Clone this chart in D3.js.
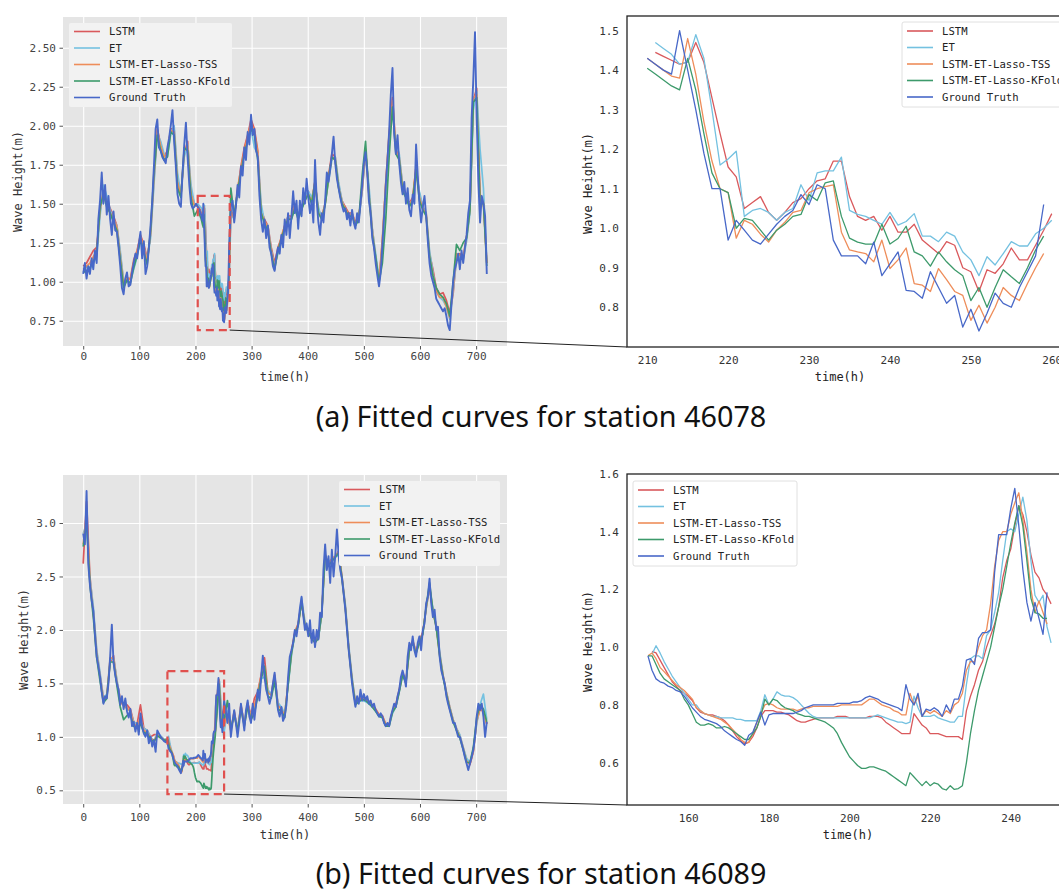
<!DOCTYPE html>
<html><head><meta charset="utf-8">
<script src="https://cdn.jsdelivr.net/npm/d3@7"></script>
<style>body{margin:0;background:#fff}svg{display:block}</style>
</head><body><svg id="c" width="1059" height="891"></svg>
<script>
// ---------- shared ----------
const seriesNames = ["LSTM", "ET", "LSTM-ET-Lasso-TSS", "LSTM-ET-Lasso-KFold", "Ground Truth"];
const seriesColors = ["#d9595c", "#74c1e0", "#ee8d5a", "#3d9a6b", "#4868c8"];
const overviewXTicks = [0, 100, 200, 300, 400, 500, 600, 700];
const titles = ["(a) Fitted curves for station 46078", "(b) Fitted curves for station 46089"];

// ---------- station 46078 (a) ----------
const aOverYTicks = [0.75, 1.00, 1.25, 1.50, 1.75, 2.00, 2.25, 2.50];
const aZoomXTicks = [210, 220, 230, 240, 250, 260];
const aZoomYTicks = [0.8, 0.9, 1.0, 1.1, 1.2, 1.3, 1.4, 1.5];
const aZoomWindow = [204, 261, 0.69, 1.55];
// zoom detail, hourly (LSTM & ET from 211, others from 210)
const aZoomStart = [211, 211, 210, 210, 210];
const aZoomLSTM = [1.445,1.435,1.425,1.415,1.42,1.47,1.42,1.33,1.24,1.155,1.13,1.05,1.065,1.08,1.04,1.02,1.04,1.065,1.075,1.10,1.12,1.125,1.17,1.17,1.08,1.03,1.02,1.03,0.995,1.03,0.99,0.99,1.01,0.97,0.953,0.936,0.966,0.957,0.90,0.89,0.84,0.895,0.886,0.91,0.95,0.92,0.92,0.957,0.995,1.037];
const aZoomET = [1.47,1.455,1.44,1.415,1.42,1.49,1.43,1.30,1.16,1.175,1.195,1.03,1.045,1.05,1.04,1.02,1.04,1.05,1.11,1.07,1.14,1.145,1.145,1.18,1.045,1.035,1.03,1.02,1.01,1.04,1.008,1.017,1.037,0.98,0.98,0.966,0.99,0.98,0.94,0.92,0.88,0.928,0.907,0.936,0.966,0.955,0.955,0.986,1.00,1.02];
const aZoomTSS = [1.43,1.415,1.40,1.385,1.38,1.48,1.39,1.27,1.17,1.10,1.09,0.975,1.02,1.01,0.985,0.965,0.995,1.015,1.04,1.045,1.09,1.10,1.105,1.11,0.99,0.945,0.94,0.936,0.915,0.97,0.898,0.92,0.95,0.86,0.856,0.84,0.898,0.87,0.84,0.83,0.767,0.805,0.76,0.80,0.85,0.83,0.817,0.86,0.90,0.936];
const aZoomKFold = [1.405,1.39,1.375,1.36,1.35,1.43,1.35,1.24,1.14,1.10,1.09,1.00,1.025,1.02,0.995,0.97,0.995,1.01,1.03,1.035,1.085,1.07,1.115,1.12,1.03,0.975,0.965,0.96,0.96,1.01,0.96,0.974,1.005,0.94,0.93,0.904,0.94,0.915,0.895,0.88,0.817,0.85,0.80,0.85,0.895,0.877,0.86,0.90,0.945,0.98];
const aZoomGT = [1.43,1.415,1.40,1.39,1.50,1.40,1.30,1.19,1.10,1.10,0.97,1.02,0.995,0.97,0.96,0.985,1.01,1.03,1.045,1.085,1.06,1.11,1.10,0.97,0.93,0.93,0.93,0.91,0.965,0.88,0.91,0.94,0.843,0.84,0.823,0.89,0.85,0.81,0.83,0.75,0.795,0.74,0.785,0.836,0.81,0.80,0.85,0.89,0.93,1.06];
// overview outside the window: GT every 3 h, models every 6 h
const aGTBefore = [1.05,1.12,1.02,1.10,1.05,1.15,1.08,1.20,1.12,1.40,
 1.52,1.70,1.50,1.62,1.43,1.55,1.40,1.30,1.45,1.33,
 1.32,1.22,1.10,0.96,0.92,1.02,1.06,0.97,0.98,1.06,
 1.12,1.18,1.15,1.24,1.32,1.15,1.26,1.05,1.10,1.22,
 1.36,1.52,1.74,1.98,2.04,1.86,1.84,1.80,1.78,1.76,
 1.86,1.92,2.00,2.10,1.90,1.74,1.56,1.50,1.48,1.70,
 1.88,2.02,1.80,1.62,1.50,1.47,1.48,1.50,1.48,1.46];
const aGTAfter = [1.22,1.48,1.52,1.38,1.48,1.62,1.54,1.74,1.68,1.86,
 1.78,1.96,1.88,2.07,1.94,1.98,1.84,1.80,1.55,1.40,
 1.32,1.40,1.28,1.36,1.22,1.18,1.10,1.07,1.16,1.22,
 1.18,1.30,1.22,1.40,1.30,1.44,1.28,1.42,1.58,1.44,
 1.52,1.34,1.52,1.42,1.60,1.50,1.66,1.54,1.44,1.52,
 1.38,1.78,1.52,1.38,1.30,1.44,1.38,1.52,1.70,1.64,
 1.72,1.82,1.93,1.76,1.66,1.60,1.54,1.49,1.45,1.47,
 1.40,1.44,1.36,1.46,1.38,1.34,1.44,1.38,1.50,1.62,
 1.76,1.83,1.70,1.52,1.44,1.28,1.22,1.12,1.04,0.97,
 1.06,1.24,1.42,1.62,1.78,1.96,2.20,2.37,1.95,1.82,
 1.94,1.76,1.64,1.56,1.64,1.50,1.60,1.46,1.42,1.56,
 1.50,1.88,1.68,1.50,1.38,1.48,1.55,1.42,1.26,1.12,
 1.04,1.00,0.96,0.89,0.87,0.85,0.83,0.81,0.83,0.78,
 0.72,0.69,0.85,1.00,1.08,1.12,1.18,1.08,1.20,1.12,
 1.22,1.30,1.44,1.52,2.05,2.30,2.60,2.05,1.64,1.38,
 1.55,1.50,1.42,1.05];
const aLSTMBefore = [1.10,1.12,1.16,1.20,1.22,1.45,1.60,1.52,1.47,1.42,1.36,1.18,1.00,1.02,1.02,1.14,1.20,1.30,1.24,1.15,1.30,1.65,1.98,1.88,1.80,1.84,1.98,1.98,1.66,1.55,1.82,1.90,1.58,1.50,1.49];
const aETBefore = [1.06,1.10,1.08,1.12,1.16,1.42,1.62,1.55,1.46,1.40,1.36,1.20,1.00,1.00,1.00,1.08,1.16,1.26,1.22,1.14,1.28,1.62,1.95,1.90,1.82,1.80,1.95,2.00,1.70,1.56,1.80,1.88,1.62,1.50,1.50];
const aTSSBefore = [1.08,1.10,1.12,1.16,1.20,1.46,1.58,1.50,1.44,1.41,1.35,1.16,0.98,1.03,1.01,1.12,1.19,1.29,1.22,1.13,1.31,1.67,1.97,1.87,1.80,1.83,1.97,1.96,1.64,1.55,1.84,1.87,1.56,1.49,1.48];
const aKFoldBefore = [1.06,1.07,1.09,1.13,1.18,1.48,1.56,1.48,1.44,1.38,1.33,1.14,0.96,1.01,0.99,1.09,1.17,1.27,1.19,1.11,1.33,1.70,1.94,1.84,1.78,1.80,1.96,1.94,1.60,1.54,1.86,1.84,1.54,1.42,1.46];
const aLSTMAfter = [1.45,1.42,1.58,1.74,1.86,1.94,2.04,1.98,1.84,1.46,1.40,1.36,1.22,1.12,1.22,1.28,1.36,1.42,1.42,1.50,1.42,1.48,1.52,1.58,1.52,1.64,1.46,1.42,1.50,1.68,1.82,1.80,1.62,1.52,1.48,1.44,1.44,1.38,1.42,1.58,1.84,1.58,1.34,1.16,1.00,1.26,1.62,1.94,2.18,1.86,1.80,1.62,1.56,1.50,1.54,1.74,1.56,1.48,1.44,1.18,1.08,0.96,0.92,0.93,0.88,0.80,0.92,1.16,1.18,1.15,1.28,1.46,2.16,2.24,1.56,1.52,1.12];
const aETAfter = [1.40,1.44,1.56,1.70,1.82,1.90,1.98,1.86,1.82,1.50,1.38,1.36,1.20,1.10,1.18,1.26,1.34,1.42,1.40,1.48,1.44,1.46,1.54,1.58,1.54,1.62,1.48,1.40,1.50,1.64,1.78,1.80,1.64,1.52,1.46,1.42,1.44,1.36,1.40,1.58,1.82,1.62,1.34,1.18,1.02,1.22,1.58,1.92,2.10,1.88,1.82,1.62,1.54,1.50,1.52,1.70,1.58,1.48,1.44,1.20,1.06,0.94,0.90,0.88,0.84,0.76,0.94,1.14,1.16,1.14,1.26,1.44,2.10,2.22,1.85,1.60,1.14];
const aTSSAfter = [1.46,1.40,1.60,1.72,1.84,1.93,2.02,1.96,1.82,1.44,1.39,1.35,1.19,1.09,1.20,1.29,1.36,1.40,1.41,1.49,1.41,1.47,1.53,1.56,1.51,1.65,1.44,1.41,1.50,1.66,1.80,1.78,1.61,1.51,1.47,1.43,1.43,1.38,1.41,1.60,1.85,1.56,1.32,1.15,1.00,1.28,1.64,1.95,2.16,1.84,1.79,1.60,1.55,1.49,1.53,1.74,1.54,1.47,1.43,1.16,1.04,0.94,0.90,0.90,0.84,0.77,0.96,1.18,1.17,1.16,1.29,1.47,2.18,2.20,1.52,1.51,1.12];
const aKFoldAfter = [1.60,1.42,1.58,1.70,1.82,1.90,1.98,1.94,1.78,1.44,1.37,1.33,1.18,1.08,1.20,1.27,1.35,1.40,1.40,1.47,1.40,1.46,1.52,1.56,1.50,1.64,1.44,1.40,1.49,1.66,1.80,1.78,1.60,1.50,1.46,1.42,1.42,1.36,1.40,1.68,1.90,1.56,1.30,1.16,1.00,1.12,1.40,1.80,2.12,1.82,1.78,1.58,1.54,1.48,1.52,1.72,1.52,1.46,1.42,1.16,1.04,0.96,0.92,0.90,0.86,0.78,1.00,1.24,1.20,1.25,1.28,1.46,2.15,2.18,1.50,1.50,1.10];

// ---------- station 46089 (b) ----------
const bOverYTicks = [0.5, 1.0, 1.5, 2.0, 2.5, 3.0];
const bZoomXTicks = [160, 180, 200, 220, 240];
const bZoomYTicks = [0.6, 0.8, 1.0, 1.2, 1.4, 1.6];
const bZoomWindow = [150, 251, 0.465, 1.615];
const bZoomStart = [151, 151, 150, 150, 150];
const bZoomLSTM = [0.985,0.98,0.955,0.93,0.905,0.88,0.865,0.85,0.84,0.83,
 0.815,0.79,0.775,0.77,0.765,0.765,0.76,0.755,0.745,0.73,
 0.71,0.69,0.675,0.665,0.67,0.69,0.72,0.76,0.78,0.78,
 0.78,0.775,0.775,0.77,0.765,0.755,0.745,0.74,0.74,0.745,
 0.75,0.755,0.755,0.755,0.755,0.755,0.76,0.76,0.76,0.755,
 0.755,0.755,0.755,0.755,0.76,0.76,0.76,0.755,0.74,0.73,
 0.72,0.71,0.70,0.70,0.70,0.77,0.75,0.73,0.72,0.70,
 0.70,0.70,0.695,0.69,0.69,0.69,0.69,0.68,0.78,0.83,
 0.87,0.92,0.95,1.00,1.04,1.08,1.14,1.24,1.30,1.34,
 1.42,1.49,1.46,1.40,1.32,1.26,1.24,1.20,1.18,1.15];
const bZoomET = [0.975,1.005,0.98,0.95,0.925,0.90,0.88,0.86,0.84,0.82,
 0.80,0.80,0.78,0.77,0.765,0.76,0.76,0.755,0.755,0.755,
 0.755,0.75,0.75,0.745,0.745,0.745,0.745,0.78,0.835,0.80,
 0.82,0.845,0.835,0.83,0.83,0.825,0.815,0.80,0.785,0.77,
 0.76,0.755,0.755,0.755,0.755,0.755,0.755,0.755,0.755,0.755,
 0.755,0.755,0.755,0.755,0.755,0.76,0.765,0.76,0.755,0.75,
 0.745,0.74,0.74,0.735,0.74,0.83,0.79,0.76,0.76,0.76,
 0.765,0.755,0.75,0.745,0.74,0.74,0.76,0.76,0.87,0.96,
 0.97,0.97,0.96,1.04,1.06,1.12,1.19,1.30,1.40,1.41,
 1.40,1.46,1.52,1.44,1.30,1.18,1.155,1.18,1.07,1.015];
const bZoomTSS = [0.97,0.98,0.96,0.93,0.915,0.90,0.885,0.87,0.86,0.85,
 0.835,0.82,0.79,0.78,0.77,0.765,0.76,0.755,0.75,0.74,
 0.73,0.715,0.70,0.68,0.67,0.67,0.70,0.74,0.77,0.80,
 0.805,0.80,0.79,0.785,0.785,0.785,0.785,0.78,0.785,0.79,
 0.79,0.795,0.795,0.795,0.795,0.795,0.795,0.795,0.80,0.80,
 0.80,0.80,0.80,0.80,0.81,0.82,0.82,0.81,0.80,0.795,
 0.79,0.78,0.775,0.765,0.765,0.84,0.80,0.83,0.76,0.78,
 0.77,0.78,0.77,0.76,0.78,0.77,0.80,0.81,0.84,0.92,
 0.95,0.95,1.00,1.04,1.06,1.15,1.28,1.37,1.40,1.40,
 1.46,1.50,1.535,1.44,1.33,1.20,1.12,1.16,1.12,1.08];
const bZoomKFold = [0.97,0.97,0.94,0.91,0.89,0.88,0.87,0.86,0.85,0.82,
 0.80,0.77,0.74,0.73,0.73,0.735,0.73,0.72,0.72,0.725,
 0.72,0.71,0.70,0.69,0.68,0.68,0.70,0.72,0.76,0.82,
 0.80,0.82,0.815,0.80,0.79,0.785,0.78,0.77,0.765,0.76,
 0.76,0.755,0.75,0.745,0.74,0.73,0.72,0.70,0.67,0.645,
 0.62,0.605,0.59,0.58,0.58,0.585,0.585,0.58,0.575,0.57,
 0.56,0.55,0.54,0.53,0.52,0.565,0.55,0.535,0.52,0.535,
 0.52,0.53,0.525,0.51,0.505,0.52,0.507,0.51,0.52,0.60,
 0.70,0.78,0.85,0.90,0.95,1.00,1.07,1.14,1.20,1.28,
 1.36,1.43,1.49,1.42,1.30,1.17,1.12,1.115,1.10,1.10];
const bZoomGT = [0.97,0.92,0.89,0.88,0.875,0.865,0.86,0.85,0.845,0.83,
 0.81,0.79,0.775,0.76,0.75,0.745,0.74,0.735,0.725,0.71,
 0.70,0.69,0.68,0.673,0.66,0.695,0.705,0.74,0.775,0.73,
 0.765,0.77,0.77,0.77,0.77,0.77,0.77,0.775,0.78,0.79,
 0.795,0.80,0.80,0.80,0.80,0.80,0.80,0.805,0.805,0.805,
 0.805,0.81,0.81,0.815,0.825,0.83,0.825,0.82,0.81,0.805,
 0.80,0.795,0.79,0.78,0.87,0.82,0.80,0.84,0.76,0.785,
 0.78,0.79,0.78,0.76,0.80,0.775,0.82,0.82,0.865,0.955,
 0.96,0.94,1.03,1.05,1.05,1.06,1.26,1.39,1.39,1.39,
 1.48,1.55,1.42,1.27,1.155,1.09,1.155,1.10,1.044,1.19];
const bGTBefore = [2.90,2.80,3.30,2.62,2.42,2.28,2.18,1.95,1.75,1.66,
 1.56,1.42,1.31,1.38,1.36,1.50,1.75,2.05,1.70,1.58,
 1.50,1.44,1.30,1.38,1.26,1.36,1.24,1.18,1.26,1.10,
 1.14,1.05,1.13,1.02,1.22,1.10,1.03,1.00,1.06,0.94,
 1.00,0.91,0.97,0.86,1.06,1.03,1.00,0.98,0.96,0.95];
const bGTAfter = [1.34,1.25,1.13,1.31,1.00,1.13,1.25,1.13,1.00,1.13,
 1.31,1.19,1.06,1.25,1.34,1.19,1.13,1.31,1.16,1.31,
 1.44,1.34,1.56,1.76,1.56,1.44,1.38,1.31,1.38,1.50,
 1.60,1.44,1.25,1.19,1.28,1.15,1.19,1.30,1.56,1.75,
 1.81,1.88,2.00,1.94,2.06,2.20,2.31,2.14,2.00,2.06,
 1.94,2.09,1.88,2.00,1.84,2.00,1.91,2.16,2.12,2.56,
 2.80,2.56,2.69,2.44,2.75,2.50,2.69,2.94,2.70,2.56,
 2.48,2.34,2.19,2.00,1.81,1.66,1.50,1.38,1.28,1.38,
 1.31,1.44,1.34,1.40,1.34,1.38,1.31,1.34,1.28,1.31,
 1.25,1.22,1.19,1.22,1.19,1.13,1.10,1.13,1.10,1.19,
 1.25,1.31,1.28,1.38,1.44,1.56,1.62,1.56,1.47,1.75,
 1.88,1.81,1.94,1.81,1.75,1.88,1.94,1.81,2.00,2.06,
 2.25,2.31,2.48,2.25,2.12,2.19,2.00,2.03,1.75,1.62,
 1.56,1.50,1.38,1.31,1.25,1.19,1.13,1.13,1.06,1.00,
 1.00,0.94,0.88,0.81,0.75,0.69,0.75,0.81,0.88,1.00,
 1.19,1.31,1.25,1.31,1.19,1.00,1.14];
const bLSTMBefore = [2.62,3.20,2.50,2.18,1.80,1.58,1.36,1.38,1.70,1.76,1.52,1.36,1.30,1.30,1.26,1.14,1.12,1.30,1.08,1.06,1.00,1.02,1.02,1.00,0.97];
const bETBefore = [2.90,3.00,2.48,2.22,1.82,1.60,1.36,1.40,1.72,1.74,1.54,1.34,1.30,1.26,1.24,1.14,1.12,1.16,1.08,1.06,1.00,0.96,1.04,1.01,0.98];
const bTSSBefore = [2.80,3.10,2.45,2.16,1.78,1.56,1.34,1.37,1.74,1.73,1.51,1.33,1.29,1.27,1.24,1.12,1.10,1.18,1.06,1.04,0.99,0.96,1.02,1.00,0.97];
const bKFoldBefore = [2.78,3.00,2.42,2.12,1.74,1.52,1.32,1.36,1.70,1.70,1.48,1.28,1.16,1.20,1.20,1.10,1.08,1.12,1.04,1.03,0.98,0.95,1.01,0.99,0.97];
const bLSTMAfter = [1.22,1.06,1.24,1.06,1.30,1.12,1.32,1.20,1.36,1.42,1.58,1.74,1.42,1.40,1.58,1.30,1.27,1.20,1.50,1.80,1.98,2.06,2.26,2.06,1.98,1.92,1.88,1.94,2.16,2.70,2.60,2.66,2.68,2.74,2.50,2.22,1.84,1.54,1.32,1.35,1.37,1.36,1.33,1.30,1.26,1.21,1.20,1.12,1.12,1.24,1.30,1.44,1.60,1.52,1.82,1.90,1.80,1.90,1.98,2.20,2.40,2.18,2.04,1.78,1.58,1.42,1.28,1.16,1.08,1.01,0.90,0.78,0.74,0.86,1.14,1.26,1.24,1.12];
const bETAfter = [1.24,1.08,1.22,1.08,1.28,1.14,1.30,1.18,1.24,1.40,1.54,1.56,1.44,1.40,1.54,1.32,1.28,1.22,1.48,1.76,1.96,2.04,2.30,2.08,2.00,1.94,1.90,1.92,2.14,2.68,2.64,2.66,2.68,2.70,2.50,2.24,1.86,1.56,1.32,1.33,1.34,1.33,1.31,1.28,1.24,1.20,1.18,1.10,1.10,1.22,1.28,1.42,1.58,1.52,1.80,1.88,1.80,1.88,1.96,2.20,2.40,2.20,2.04,1.80,1.58,1.42,1.28,1.16,1.08,1.02,0.90,0.80,0.76,0.88,1.12,1.30,1.40,1.16];
const bTSSAfter = [1.21,1.05,1.23,1.05,1.29,1.11,1.31,1.18,1.30,1.41,1.57,1.66,1.41,1.39,1.57,1.29,1.26,1.20,1.51,1.79,1.97,2.05,2.27,2.05,1.99,1.93,1.89,1.93,2.17,2.71,2.61,2.67,2.69,2.73,2.49,2.21,1.83,1.53,1.31,1.34,1.36,1.35,1.32,1.29,1.25,1.20,1.19,1.11,1.11,1.24,1.29,1.43,1.59,1.51,1.83,1.89,1.79,1.89,1.97,2.21,2.41,2.17,2.03,1.77,1.57,1.41,1.27,1.15,1.07,1.00,0.89,0.77,0.75,0.87,1.15,1.27,1.23,1.12];
const bKFoldAfter = [1.34,1.08,1.20,1.06,1.26,1.10,1.28,1.16,1.22,1.38,1.54,1.66,1.38,1.36,1.52,1.26,1.24,1.18,1.48,1.78,1.96,2.04,2.26,2.04,1.98,1.92,1.88,1.92,2.16,2.70,2.60,2.64,2.68,2.72,2.48,2.20,1.82,1.52,1.30,1.33,1.35,1.34,1.31,1.28,1.24,1.19,1.18,1.10,1.10,1.23,1.28,1.42,1.58,1.50,1.82,1.88,1.78,1.88,1.96,2.22,2.44,2.18,2.02,1.76,1.56,1.40,1.26,1.14,1.06,0.99,0.88,0.76,0.76,0.90,1.18,1.30,1.26,1.14];

// ---------- helpers ----------
const pts = (start, step, vals) => vals.map((v, i) => ({t: start + i * step, v}));
const svg = d3.select("#c");
svg.append("rect").attr("width", 1059).attr("height", 891).attr("fill", "#fff");
const MONO = "DejaVu Sans Mono, monospace";

function buildStation(zoom, zStart, before, after, gtBeforeStep, gtAfterStart, mBeforeStep, mAfterStart) {
  return seriesNames.map((n, k) => {
    const isGT = k === 4;
    const b = pts(0, isGT ? gtBeforeStep : mBeforeStep, before[k]);
    const z = pts(zStart[k], 1, zoom[k]);
    const a = pts(isGT ? gtAfterStart : mAfterStart, isGT ? 3 : 6, after[k]);
    return {overview: b.concat(z, a), zoom: z};
  });
}

const stA = buildStation([aZoomLSTM, aZoomET, aZoomTSS, aZoomKFold, aZoomGT], aZoomStart,
  [aLSTMBefore, aETBefore, aTSSBefore, aKFoldBefore, aGTBefore],
  [aLSTMAfter, aETAfter, aTSSAfter, aKFoldAfter, aGTAfter], 3, 260, 6, 263);
const stB = buildStation([bZoomLSTM, bZoomET, bZoomTSS, bZoomKFold, bZoomGT], bZoomStart,
  [bLSTMBefore, bETBefore, bTSSBefore, bKFoldBefore, bGTBefore],
  [bLSTMAfter, bETAfter, bTSSAfter, bKFoldAfter, bGTAfter], 3, 251, 6, 257);

function legend(g, x0, y0, w, h, rowY, fill, stroke) {
  g.append("rect").attr("x", x0).attr("y", y0).attr("width", w).attr("height", h)
    .attr("rx", 2).attr("fill", fill).attr("stroke", stroke).attr("stroke-width", 0.8);
  seriesNames.forEach((n, k) => {
    const yy = rowY + k * 16.5;
    g.append("line").attr("x1", x0 + 5).attr("x2", x0 + 31).attr("y1", yy).attr("y2", yy)
      .attr("stroke", seriesColors[k]).attr("stroke-width", 1.6);
    g.append("text").attr("x", x0 + 40).attr("y", yy + 3.8).text(n)
      .attr("font-family", MONO).attr("font-size", 10.6).attr("fill", "#222");
  });
}

function styleAxis(sel, color) {
  sel.select(".domain").remove();
  sel.selectAll(".tick line").attr("stroke", "#555");
  sel.selectAll("text").attr("font-family", MONO).attr("font-size", 11).attr("fill", color);
}

function overviewPanel(st, o) {
  const g = svg.append("g");
  const x = d3.scaleLinear().domain([-36, 755]).range([o.x0, o.x1]);
  const y = d3.scaleLinear().domain(o.yDom).range([o.y1, o.y0]);
  g.append("rect").attr("x", o.x0).attr("y", o.y0).attr("width", o.x1 - o.x0).attr("height", o.y1 - o.y0).attr("fill", "#e5e5e5");
  // grid
  g.append("g").attr("transform", `translate(0,${o.y1})`)
    .call(d3.axisBottom(x).tickValues(overviewXTicks).tickSize(-(o.y1 - o.y0)).tickFormat(""))
    .call(s => { s.select(".domain").remove(); s.selectAll("line").attr("stroke", "#fff").attr("stroke-width", 1.1); });
  g.append("g").attr("transform", `translate(${o.x0},0)`)
    .call(d3.axisLeft(y).tickValues(o.yTicks).tickSize(-(o.x1 - o.x0)).tickFormat(""))
    .call(s => { s.select(".domain").remove(); s.selectAll("line").attr("stroke", "#fff").attr("stroke-width", 1.1); });
  // lines
  const line = d3.line().x(d => x(d.t)).y(d => y(d.v));
  st.forEach((s, k) => {
    g.append("path").datum(s.overview).attr("d", line).attr("fill", "none")
      .attr("stroke", seriesColors[k]).attr("stroke-width", k === 4 ? 1.9 : 1.7).attr("stroke-linejoin", "round");
  });
  // axes
  g.append("g").attr("transform", `translate(0,${o.y1})`)
    .call(d3.axisBottom(x).tickValues(overviewXTicks).tickSize(3.5).tickPadding(o.xPad).tickFormat(d3.format("d")))
    .call(s => styleAxis(s, "#444"));
  g.append("g").attr("transform", `translate(${o.x0},0)`)
    .call(d3.axisLeft(y).tickValues(o.yTicks).tickSize(3.5).tickPadding(3.5).tickFormat(d3.format(o.yFmt)))
    .call(s => styleAxis(s, "#444"));
  g.append("text").attr("x", (o.x0 + o.x1) / 2).attr("y", o.xLabelY).attr("text-anchor", "middle")
    .attr("font-family", MONO).attr("font-size", 12).attr("fill", "#333").text("time(h)");
  g.append("text").attr("transform", `translate(${o.yLabelX},${(o.y0 + o.y1) / 2}) rotate(-90)`)
    .attr("text-anchor", "middle").attr("dominant-baseline", "central")
    .attr("font-family", MONO).attr("font-size", 12).attr("fill", "#333").text("Wave Height(m)");
  // zoom window
  const w = o.win;
  g.append("rect").attr("x", x(w[0])).attr("y", y(w[3])).attr("width", x(w[1]) - x(w[0])).attr("height", y(w[2]) - y(w[3]))
    .attr("fill", "none").attr("stroke", "#e0504e").attr("stroke-width", 2.2).attr("stroke-dasharray", "8,5");
  legend(g, o.leg[0], o.leg[1], o.leg[2], o.leg[3], o.leg[4], "#f2f2f2", "none");
  return {x, y, g};
}

function zoomPanel(st, o) {
  const g = svg.append("g");
  const x = d3.scaleLinear().domain(o.xDom).range([o.x0, o.x1]);
  const y = d3.scaleLinear().domain(o.yDom).range([o.y1, o.y0]);
  g.append("rect").attr("x", o.x0).attr("y", o.y0).attr("width", o.x1 - o.x0).attr("height", o.y1 - o.y0)
    .attr("fill", "#fff").attr("stroke", "#222").attr("stroke-width", 1.3);
  const line = d3.line().x(d => x(d.t)).y(d => y(d.v));
  st.forEach((s, k) => {
    g.append("path").datum(s.zoom).attr("d", line).attr("fill", "none")
      .attr("stroke", seriesColors[k]).attr("stroke-width", 1.3).attr("stroke-linejoin", "round");
  });
  g.append("g").attr("transform", `translate(0,${o.y1})`)
    .call(d3.axisBottom(x).tickValues(o.xTicks).tickSize(0).tickPadding(o.xPad).tickFormat(d3.format("d")))
    .call(s => styleAxis(s, "#333"));
  g.append("g").attr("transform", `translate(${o.x0},0)`)
    .call(d3.axisLeft(y).tickValues(o.yTicks).tickSize(0).tickPadding(8).tickFormat(d3.format(".1f")))
    .call(s => styleAxis(s, "#333"));
  g.append("text").attr("x", o.xLabelX).attr("y", o.xLabelY).attr("text-anchor", "middle")
    .attr("font-family", MONO).attr("font-size", 12).attr("fill", "#222").text("time(h)");
  g.append("text").attr("transform", `translate(${o.yLabelX},${(o.y0 + o.y1) / 2 + 2}) rotate(-90)`)
    .attr("text-anchor", "middle").attr("dominant-baseline", "central")
    .attr("font-family", MONO).attr("font-size", 12).attr("fill", "#222").text("Wave Height(m)");
  legend(g, o.leg[0], o.leg[1], o.leg[2], o.leg[3], o.leg[4], "#fff", "#d8d8d8");
  return {x, y};
}

// ---------- panel (a) ----------
const ovA = overviewPanel(stA, {x0: 63, x1: 507, y0: 17, y1: 346, yDom: [0.588, 2.697], yTicks: aOverYTicks,
  yFmt: ".2f", xPad: 3, xLabelY: 381, yLabelX: 18, win: aZoomWindow, leg: [69, 23, 163, 84, 31.5]});
const zA = zoomPanel(stA, {x0: 627, x1: 1072, y0: 16, y1: 347, xDom: [207.5, 262.5], yDom: [0.6995, 1.537],
  xTicks: aZoomXTicks, yTicks: aZoomYTicks, xPad: 9, xLabelX: 840, xLabelY: 381, yLabelX: 588, leg: [902, 22, 170, 85, 31]});
svg.append("line").attr("x1", ovA.x(aZoomWindow[1])).attr("y1", ovA.y(aZoomWindow[2]))
  .attr("x2", 627).attr("y2", 347).attr("stroke", "#222").attr("stroke-width", 1);

// ---------- panel (b) ----------
const ovB = overviewPanel(stB, {x0: 63, x1: 507, y0: 475, y1: 804, yDom: [0.372, 3.449], yTicks: bOverYTicks,
  yFmt: ".1f", xPad: 6, xLabelY: 839, yLabelX: 24, win: bZoomWindow, leg: [339, 481, 161, 85, 489.5]});
const zB = zoomPanel(stB, {x0: 627, x1: 1068, y0: 474, y1: 805, xDom: [144.8, 254.2], yDom: [0.453, 1.6],
  xTicks: bZoomXTicks, yTicks: bZoomYTicks, xPad: 9.5, xLabelX: 848, xLabelY: 839, yLabelX: 588, leg: [633, 481, 164, 85, 490]});
svg.append("line").attr("x1", ovB.x(bZoomWindow[1])).attr("y1", ovB.y(bZoomWindow[2]))
  .attr("x2", 627).attr("y2", 805).attr("stroke", "#222").attr("stroke-width", 1);

// ---------- captions ----------
[[titles[0], 427], [titles[1], 884]].forEach(([t, yy]) => {
  const tx = svg.append("text").attr("x", 541).attr("y", yy).attr("text-anchor", "middle")
    .attr("font-family", "Noto Sans, Open Sans, sans-serif").attr("font-size", 26).attr("fill", "#111").text(t);
  const len = tx.node().getComputedTextLength();
  if (len > 0) tx.attr("font-size", 26 * 451 / len);
});
</script>
</body></html>
